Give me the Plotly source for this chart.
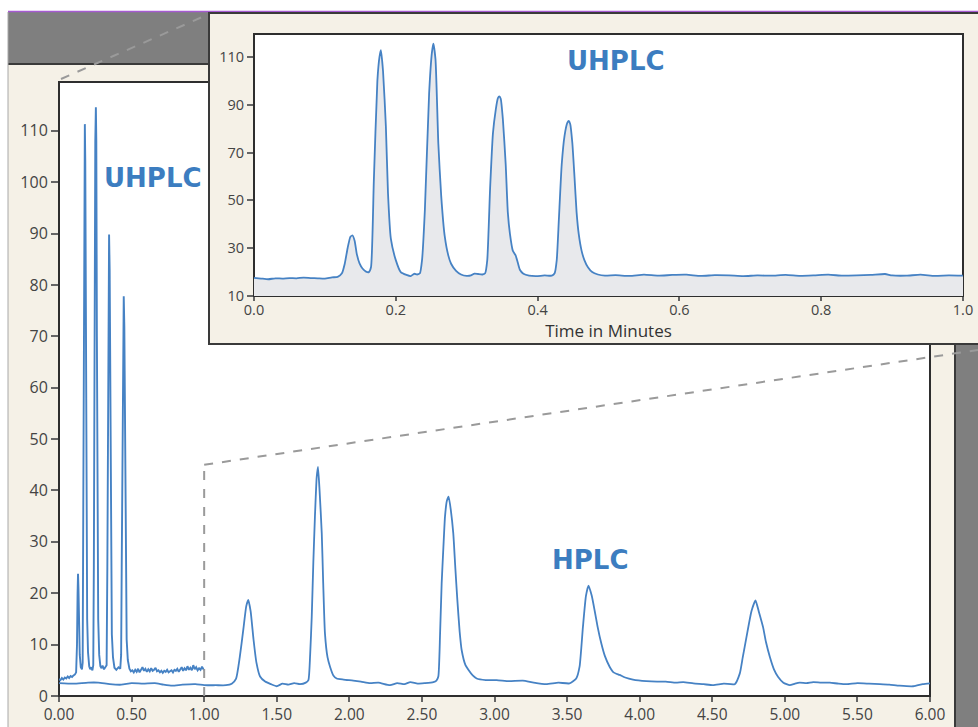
import plotly.graph_objects as go

# ---------------- data ----------------
# HPLC chromatogram (main chart), time in minutes / signal
hplc_t = [0.00, 0.10, 0.20, 0.27, 0.35, 0.43, 0.50, 0.58, 0.66, 0.72, 0.78, 0.85, 0.94, 1.00,
          1.08, 1.15, 1.19, 1.22, 1.245, 1.27, 1.29, 1.304, 1.32, 1.34, 1.36, 1.385, 1.42, 1.46,
          1.50, 1.54, 1.58, 1.62, 1.66, 1.70, 1.718, 1.73, 1.741, 1.752, 1.763, 1.775, 1.784,
          1.795, 1.81, 1.82, 1.832, 1.85, 1.867, 1.89, 1.913, 1.96, 2.027, 2.08, 2.142, 2.20,
          2.28, 2.33, 2.38, 2.42, 2.47, 2.52, 2.579, 2.60, 2.613, 2.625, 2.636, 2.648, 2.659,
          2.672, 2.684, 2.70, 2.716, 2.73, 2.744, 2.76, 2.774, 2.80, 2.82, 2.85, 2.877, 2.94,
          3.015, 3.10, 3.195, 3.27, 3.356, 3.44, 3.517, 3.563, 3.586, 3.609, 3.63, 3.648, 3.67,
          3.69, 3.71, 3.736, 3.76, 3.793, 3.82, 3.862, 3.90, 3.954, 4.046, 4.12, 4.18, 4.25,
          4.30, 4.37, 4.44, 4.506, 4.58, 4.655, 4.69, 4.71, 4.736, 4.77, 4.798, 4.82, 4.85,
          4.87, 4.897, 4.925, 4.954, 4.99, 5.034, 5.07, 5.103, 5.15, 5.195, 5.25, 5.31, 5.37,
          5.425, 5.50, 5.58, 5.655, 5.72, 5.79, 5.885, 5.95, 6.00]
hplc_v = [2.5, 2.4, 2.6, 2.6, 2.3, 2.2, 2.5, 2.4, 2.5, 2.2, 2.0, 2.2, 2.3, 2.1,
          2.1, 2.1, 2.4, 3.4, 7.5, 13.0, 17.5, 18.7, 16.5, 11.0, 6.5, 3.8, 2.8, 2.3,
          1.9, 2.4, 2.2, 2.5, 2.3, 2.6, 3.1, 8.0, 15.4, 26.0, 34.9, 42.5, 44.6,
          40.0, 31.7, 22.0, 12.2, 7.5, 5.7, 4.0, 3.4, 3.2, 3.0, 2.8, 2.5, 2.6,
          2.1, 2.5, 2.3, 2.7, 2.4, 2.5, 2.7, 3.0, 3.8, 12.0, 21.9, 29.0, 34.9,
          38.0, 38.8, 36.0, 31.7, 25.0, 18.7, 12.5, 8.9, 6.0, 5.1, 4.0, 3.4, 3.1,
          3.1, 2.9, 3.0, 2.6, 2.3, 2.6, 2.45, 3.4, 5.7, 13.4, 19.5, 21.5, 19.5,
          16.6, 13.5, 10.2, 7.8, 5.7, 4.6, 4.1, 3.6, 3.2, 2.9, 2.8, 2.8, 2.6,
          2.7, 2.45, 2.3, 2.1, 2.4, 2.3, 4.4, 7.5, 11.5, 16.5, 18.6, 16.5, 13.4,
          10.5, 7.6, 5.2, 3.7, 2.6, 2.1, 2.4, 2.6, 2.5, 2.7, 2.6, 2.6, 2.4,
          2.3, 2.5, 2.4, 2.3, 2.2, 2.0, 1.9, 2.3, 2.45]

# UHPLC chromatogram drawn in the main chart
uhplc_main_t = [0.000, 0.010, 0.020, 0.030, 0.040, 0.050, 0.060, 0.070, 0.080, 0.090, 0.100,
                0.110, 0.118, 0.124, 0.128, 0.131, 0.134, 0.138, 0.143, 0.150, 0.158, 0.163,
                0.167, 0.171, 0.175, 0.178, 0.181, 0.185, 0.189, 0.194, 0.200, 0.208, 0.215,
                0.222, 0.230, 0.236, 0.240, 0.245, 0.250, 0.254, 0.257, 0.261, 0.265, 0.270,
                0.277, 0.285, 0.293, 0.300, 0.310, 0.320, 0.328, 0.333, 0.338, 0.342, 0.345,
                0.349, 0.353, 0.358, 0.364, 0.372, 0.382, 0.395, 0.410, 0.422, 0.428, 0.432,
                0.437, 0.442, 0.446, 0.450, 0.455, 0.460, 0.466, 0.474, 0.485, 0.495, 0.505,
                0.515, 0.525, 0.535, 0.545, 0.555, 0.565, 0.575, 0.585, 0.595, 0.605, 0.615,
                0.625, 0.635, 0.645, 0.655, 0.665, 0.675, 0.685, 0.695, 0.705, 0.715, 0.725,
                0.735, 0.745, 0.755, 0.765, 0.775, 0.785, 0.795, 0.805, 0.815, 0.825, 0.835,
                0.845, 0.855, 0.865, 0.875, 0.885, 0.895, 0.905, 0.915, 0.925, 0.935, 0.945,
                0.955, 0.965, 0.975, 0.985, 0.995, 1.000]
uhplc_main_v = [3.3, 3.1, 3.5, 3.2, 3.6, 3.4, 3.8, 3.5, 3.9, 3.7, 4.0,
                4.2, 4.6, 10.0, 20.0, 23.8, 21.0, 14.0, 8.0, 5.6, 5.2, 6.5,
                30.0, 75.0, 105.0, 111.3, 104.0, 70.0, 35.0, 15.0, 8.5, 5.8, 5.2,
                5.6, 5.0, 6.0, 25.0, 80.0, 108.0, 114.6, 108.0, 70.0, 35.0, 15.0,
                8.0, 5.8, 5.4, 5.9, 5.2, 5.6, 6.0, 25.0, 60.0, 85.0, 89.8,
                83.0, 55.0, 25.0, 12.0, 7.5, 5.5, 5.1, 5.6, 5.3, 8.0, 25.0,
                55.0, 72.0, 77.8, 72.0, 45.0, 22.0, 11.0, 7.0, 5.3, 4.8, 5.0,
                4.6, 5.1, 4.7, 5.3, 4.6, 5.2, 5.6, 4.9, 5.3, 4.7, 5.2,
                4.8, 5.4, 4.9, 5.1, 5.5, 4.8, 5.0, 4.6, 4.9, 4.5, 4.9,
                4.7, 5.1, 4.6, 4.8, 5.0, 4.6, 5.1, 4.9, 5.3, 4.7, 5.2,
                5.6, 4.9, 5.4, 5.0, 5.8, 5.1, 5.5, 5.0, 6.0, 5.2, 5.6,
                5.0, 5.4, 5.1, 5.7, 5.2, 5.0]

# UHPLC chromatogram in the zoomed inset (0 - 1 min)
uhplc_inset_t = [0.000, 0.010, 0.020, 0.030, 0.040, 0.050, 0.060, 0.070, 0.080, 0.090, 0.100,
                 0.110, 0.118, 0.124, 0.128, 0.132, 0.136, 0.139, 0.142, 0.145, 0.149, 0.153,
                 0.158, 0.162, 0.165, 0.169, 0.174, 0.177, 0.179, 0.182, 0.186, 0.189, 0.193,
                 0.200, 0.207, 0.215, 0.221, 0.226, 0.230, 0.234, 0.237, 0.241, 0.247, 0.251,
                 0.253, 0.256, 0.260, 0.264, 0.269, 0.274, 0.278, 0.285, 0.292, 0.300, 0.306,
                 0.311, 0.316, 0.322, 0.326, 0.329, 0.333, 0.337, 0.341, 0.344, 0.346, 0.348,
                 0.351, 0.355, 0.358, 0.361, 0.365, 0.369, 0.372, 0.375, 0.380, 0.388, 0.398,
                 0.410, 0.420, 0.424, 0.427, 0.430, 0.434, 0.438, 0.442, 0.444, 0.446, 0.449,
                 0.452, 0.455, 0.458, 0.462, 0.466, 0.471, 0.477, 0.485, 0.495, 0.510, 0.530,
                 0.550, 0.570, 0.590, 0.610, 0.630, 0.650, 0.670, 0.690, 0.710, 0.730, 0.750,
                 0.770, 0.790, 0.810, 0.830, 0.850, 0.870, 0.890, 0.900, 0.920, 0.940, 0.960,
                 0.980, 1.000]
uhplc_inset_v = [17.6, 17.3, 17.0, 17.4, 17.3, 17.5, 17.4, 17.7, 17.5, 17.4, 17.3,
                 17.8, 18.0, 19.5, 23.5, 30.0, 34.8, 35.3, 33.0, 27.5, 23.5, 21.5,
                 20.2, 20.0, 22.0, 58.0, 100.0, 110.0, 112.8, 104.0, 81.0, 53.0, 34.0,
                 25.0, 20.0, 18.8, 18.3, 19.3, 19.0, 19.5, 25.0, 46.0, 94.7, 112.0,
                 115.6, 109.0, 73.7, 52.0, 35.0, 27.0, 23.5, 20.5, 19.0, 18.4, 18.6,
                 19.4, 19.2, 19.0, 19.5, 25.0, 55.0, 78.0, 88.0, 92.8, 93.5, 92.5,
                 84.0, 65.0, 45.0, 36.0, 29.0, 27.0, 24.0, 21.0, 19.3, 18.5, 18.3,
                 18.6, 18.5, 19.5, 25.0, 42.0, 65.0, 77.0, 82.5, 83.2, 82.0, 74.0,
                 60.0, 45.0, 36.0, 29.0, 25.0, 22.0, 20.0, 19.0, 18.5, 18.7, 18.4,
                 18.9, 18.5, 18.8, 18.9, 18.4, 18.7, 18.6, 18.3, 18.6, 18.5, 18.8,
                 18.4, 18.6, 18.9, 18.5, 18.6, 18.8, 19.2, 18.6, 18.5, 18.9, 18.4,
                 18.6, 18.5]

main_yticks = [0, 10, 20, 30, 40, 50, 60, 70, 80, 90, 100, 110]
main_xticks = [0.0, 0.5, 1.0, 1.5, 2.0, 2.5, 3.0, 3.5, 4.0, 4.5, 5.0, 5.5, 6.0]
inset_yticks = [10, 30, 50, 70, 90, 110]
inset_xticks = [0.0, 0.2, 0.4, 0.6, 0.8, 1.0]
zoom_end = 1.0        # end of the zoomed window (min)
zoom_level = 45       # height of the zoom marker (signal)

# ---------------- layout helpers ----------------
W, H = 978, 727
def px(x):
    return x / W
def py(y):
    return 1 - y / H

LINE = "#4682C4"
TEXT_BLUE = "#3C7DC0"
CREAM = "#F5F1E7"
GRAY = "#7F7F7F"
DARK = "#2E2E2E"
TICKC = "#444444"
FONT = "Open Sans"

fig = go.Figure()

fig.add_trace(go.Scatter(x=hplc_t, y=hplc_v, mode="lines",
                         line=dict(color=LINE, width=1.8, shape="spline", smoothing=0.5),
                         xaxis="x", yaxis="y", showlegend=False, hoverinfo="skip"))
fig.add_trace(go.Scatter(x=uhplc_main_t, y=uhplc_main_v, mode="lines",
                         line=dict(color=LINE, width=1.9),
                         xaxis="x", yaxis="y", showlegend=False, hoverinfo="skip"))
fig.add_trace(go.Scatter(x=uhplc_inset_t, y=uhplc_inset_v, mode="lines",
                         line=dict(color=LINE, width=1.8, shape="spline", smoothing=0.5),
                         fill="tozeroy", fillcolor="#E8E9EC",
                         xaxis="x2", yaxis="y2", showlegend=False, hoverinfo="skip"))

def rect(x0, y0, x1, y1, fill, lc=None, lw=0, layer="below"):
    return dict(type="rect", xref="paper", yref="paper", x0=px(x0), x1=px(x1),
                y0=py(y1), y1=py(y0), fillcolor=fill, layer=layer,
                line=dict(color=lc if lc else fill, width=lw))

def pline(x0, y0, x1, y1, color, width, dash="solid", layer="below"):
    return dict(type="line", xref="paper", yref="paper", x0=px(x0), x1=px(x1),
                y0=py(y0), y1=py(y1), layer=layer,
                line=dict(color=color, width=width, dash=dash))

shapes = [
    rect(8, 12, 980, 64, GRAY),
    rect(955, 64, 980, 730, GRAY),
    rect(8, 64, 955, 730, CREAM),
    pline(8, 64, 980, 64, "#3A3A3A", 2),
    pline(955, 64, 955, 730, "#3A3A3A", 2),
    pline(8, 12, 8, 730, "#A8A8A8", 1),
    pline(8, 11.5, 980, 11.5, "#A65AD2", 1.5),
    rect(59, 82, 930, 696, "white", DARK, 2),
    rect(209, 13, 985, 344, CREAM, "#3A3A3A", 2),
    rect(254, 34, 963, 296, "white", DARK, 2),
    # zoom connector lines
    dict(type="line", xref="x", yref="y", x0=zoom_end, x1=zoom_end, y0=0, y1=zoom_level,
         layer="above", line=dict(color="#9A9A9A", width=2, dash="dash")),
    pline(59 + zoom_end * (930 - 59) / 6.0, 696 - zoom_level * (696 - 82) / 119.5,
          978, 350, "#9A9A9A", 2, "dash", "above"),
    pline(61, 79, 209, 14, "#9A9A9A", 2, "dash", "above"),
]

annotations = [
    dict(x=0.65, y=100.8, xref="x", yref="y", text="<b>UHPLC</b>", showarrow=False,
         font=dict(family="DejaVu Sans", size=26, color=TEXT_BLUE)),
    dict(x=3.66, y=26.5, xref="x", yref="y", text="<b>HPLC</b>", showarrow=False,
         font=dict(family="DejaVu Sans", size=26, color=TEXT_BLUE)),
    dict(x=0.51, y=108.3, xref="x2", yref="y2", text="<b>UHPLC</b>", showarrow=False,
         font=dict(family="DejaVu Sans", size=26, color=TEXT_BLUE)),
]

axis_common = dict(showgrid=False, zeroline=False, showline=False, ticks="outside",
                   automargin=False, tickcolor="#666666", tickwidth=1.5)

fig.update_layout(
    width=W, height=H, autosize=False,
    margin=dict(l=0, r=0, t=0, b=0, pad=0),
    paper_bgcolor="white", plot_bgcolor="rgba(0,0,0,0)",
    showlegend=False,
    xaxis=dict(domain=[px(59), px(930)], range=[0, 6], anchor="y",
               tickvals=main_xticks, ticktext=[f"{v:.2f}" for v in main_xticks],
               ticklen=5, ticklabelstandoff=-1,
               tickfont=dict(family=FONT, size=15.5, color=TICKC), **axis_common),
    yaxis=dict(domain=[py(696), py(82)], range=[0, 119.5], anchor="x",
               tickvals=main_yticks, ticktext=[str(v) for v in main_yticks],
               ticklen=7, ticklabelstandoff=0,
               tickfont=dict(family=FONT, size=16, color=TICKC), **axis_common),
    xaxis2=dict(domain=[px(254), px(963)], range=[0, 1], anchor="y2",
                tickvals=inset_xticks, ticktext=[f"{v:.1f}" for v in inset_xticks],
                ticklen=4, ticklabelstandoff=-3,
                tickfont=dict(family=FONT, size=14.5, color=TICKC),
                title=dict(text="Time in Minutes", standoff=0,
                           font=dict(family=FONT, size=17, color="#333333")),
                **axis_common),
    yaxis2=dict(domain=[py(296), py(34)], range=[10, 119.6], anchor="x2",
                tickvals=inset_yticks, ticktext=[str(v) for v in inset_yticks],
                ticklen=6, tickfont=dict(family=FONT, size=14.5, color=TICKC),
                **axis_common),
    shapes=shapes,
    annotations=annotations,
)

fig.write_html("out.html", config={"displayModeBar": False},
               post_script="document.body.style.margin='0';document.body.style.overflow='hidden';")
